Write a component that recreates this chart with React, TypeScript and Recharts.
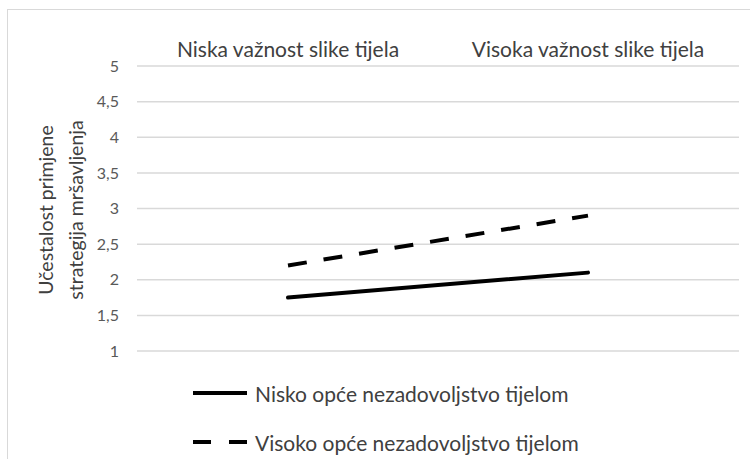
import { CartesianGrid, Line, LineChart, XAxis, YAxis } from "recharts";

const categories = ["Niska važnost slike tijela", "Visoka važnost slike tijela"];
const niskoValues = [1.75, 2.1];
const visokoValues = [2.2, 2.9];
const yTicks = [1, 1.5, 2, 2.5, 3, 3.5, 4, 4.5, 5];
const seriesNames = ["Nisko opće nezadovoljstvo tijelom", "Visoko opće nezadovoljstvo tijelom"];
const yTitle = ["Učestalost primjene", "strategija mršavljenja"];

const data = categories.map((name, i) => ({
  name,
  nisko: niskoValues[i],
  visoko: visokoValues[i],
}));

const FONT = "Lato, 'Open Sans', sans-serif";
const DASH = "19 17";

function YTitle() {
  return (
    <text
      transform="translate(61, 210) rotate(-90)"
      textAnchor="middle"
      fontFamily={FONT}
      fontSize={19.5}
      fill="#404040"
    >
      <tspan x={0} dy={-8}>{yTitle[0]}</tspan>
      <tspan x={0} dy={30}>{yTitle[1]}</tspan>
    </text>
  );
}

export default function App() {
  return (
    <div style={{ position: "absolute", left: 0, top: 0, width: 750, height: 459, background: "#fff", overflow: "hidden" }}>
      <div
        style={{
          position: "absolute",
          left: 7,
          top: 9,
          width: 800,
          height: 500,
          border: "1px solid #d9d9d9",
        }}
      />
      <LineChart
        width={750}
        height={459}
        data={data}
        margin={{ top: 26, right: 11, left: 17, bottom: 108 }}
        style={{ position: "absolute", left: 0, top: 0 }}
      >
        <CartesianGrid horizontal vertical={false} stroke="#d9d9d9" strokeWidth={1.5} />
        <XAxis
          dataKey="name"
          orientation="top"
          height={40}
          axisLine={false}
          tickLine={false}
          padding={{ left: 151, right: 151 }}
          tick={{ fill: "#404040", fontSize: 21, fontFamily: FONT, dy: -1 }}
          interval={0}
        />
        <YAxis
          domain={[1, 5]}
          ticks={yTicks}
          width={120}
          axisLine={false}
          tickLine={false}
          tick={{ fill: "#595959", fontSize: 16, fontFamily: FONT }}
          tickFormatter={(v: number) => String(v).replace(".", ",")}
          tickMargin={12}
          label={<YTitle />}
        />
        <Line dataKey="nisko" stroke="#000" strokeWidth={4} dot={false} isAnimationActive={false} strokeLinecap="round" />
        <Line
          dataKey="visoko"
          stroke="#000"
          strokeWidth={4}
          strokeDasharray={DASH}
          dot={false}
          isAnimationActive={false}
        />
      </LineChart>
      {seriesNames.map((name, i) => (
        <div
          key={name}
          style={{
            position: "absolute",
            left: 193,
            top: 380 + i * 49,
            height: 26,
            display: "flex",
            alignItems: "center",
            fontFamily: FONT,
            fontSize: 21,
            color: "#404040",
          }}
        >
          <svg width={56} height={8} style={{ marginRight: 6 }}>
            <line
              x1={0}
              y1={4}
              x2={54}
              y2={4}
              stroke="#000"
              strokeWidth={4}
              strokeDasharray={i === 1 ? "18 18" : undefined}
            />
          </svg>
          {name}
        </div>
      ))}
    </div>
  );
}
